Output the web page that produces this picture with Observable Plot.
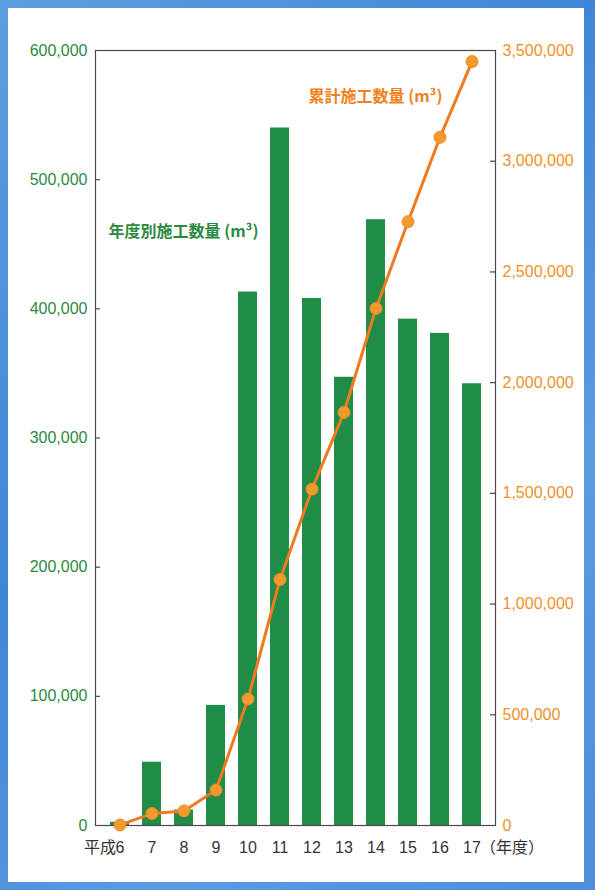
<!DOCTYPE html>
<html><head><meta charset="utf-8">
<script src="https://cdn.jsdelivr.net/npm/d3@7"></script>
<script src="https://cdn.jsdelivr.net/npm/@observablehq/plot@0.6"></script>
<style>
html,body{margin:0;padding:0;}
body{width:595px;height:890px;overflow:hidden;background:linear-gradient(135deg,#5c9fe0 0%,#3f86d6 40%,#5a9be0 70%,#4b8fda 100%);}
#wrap{position:relative;width:595px;height:890px;}
#panel{position:absolute;left:8px;top:8px;width:576px;height:874px;background:#fff;}
#chart{position:absolute;left:0;top:0;}
</style></head>
<body><div id="wrap"><div id="panel"></div><div id="chart"></div></div>
<script>
const years = [6, 7, 8, 9, 10, 11, 12, 13, 14, 15, 16, 17];
const annual = [2500, 49000, 12000, 93000, 413000, 540000, 408000, 347000, 469000, 392000, 381000, 342000];
const cumulative = [2500, 54000, 66000, 160000, 571000, 1111000, 1519000, 1866000, 2335000, 2727000, 3108000, 3450000];
const leftTicks = [0, 100000, 200000, 300000, 400000, 500000, 600000];
const rightTicks = [0, 500000, 1000000, 1500000, 2000000, 2500000, 3000000, 3500000];
const xLabels = ["6", "7", "8", "9", "10", "11", "12", "13", "14", "15", "16", "17"];
const barLabel = "年度別施工数量 (m³)";
const lineLabel = "累計施工数量 (m³)";

const k = 600000 / 3500000;
const rows = years.map((yr, i) => ({year: yr, annual: annual[i], cum: cumulative[i] * k}));
const fmt = d3.format(",");
const green = "#1f8c47", orange = "#f39a2e", lineCol = "#f07a1e";
const numFont = "'Liberation Sans', Arial, sans-serif";
const cjkFont = "'Noto Sans CJK JP', sans-serif";

const chart = Plot.plot({
  width: 595, height: 890,
  marginLeft: 95, marginRight: 100, marginTop: 50, marginBottom: 65,
  style: {background: "transparent", overflow: "visible"},
  x: {type: "band", domain: years, padding: 0.42, axis: null},
  y: {domain: [0, 600000], axis: null},
  marks: [
    Plot.barY(rows, {x: "year", y: "annual", fill: green}),
    Plot.frame({stroke: "#4a4a4a", strokeWidth: 1.2}),
    Plot.tickY(leftTicks.slice(1, -1), {y: d => d, insetRight: 395, stroke: "#4a4a4a", strokeWidth: 1.2}),
    Plot.tickY(rightTicks.slice(1, -1), {y: d => d * k, insetLeft: 395, stroke: "#4a4a4a", strokeWidth: 1.2}),
    Plot.text(leftTicks, {y: d => d, text: d => fmt(d), frameAnchor: "left", textAnchor: "end", dx: -8, fill: "#2b8a3e", fontSize: 16, fontFamily: numFont}),
    Plot.text(rightTicks, {y: d => d * k, text: d => fmt(d), frameAnchor: "right", textAnchor: "start", dx: 7, fill: "#f0902a", fontSize: 16, fontFamily: numFont}),
    Plot.line(rows, {x: "year", y: "cum", stroke: lineCol, strokeWidth: 3}),
    Plot.dot(rows, {x: "year", y: "cum", r: 6, fill: orange, stroke: "#f08a26", strokeWidth: 1}),
    Plot.text(years, {x: d => d, text: (d, i) => xLabels[i], frameAnchor: "bottom", dy: 27, fill: "#333", fontSize: 16, fontFamily: numFont}),
    Plot.text(["平成"], {x: () => years[0], frameAnchor: "bottom", textAnchor: "end", dx: -4, dy: 27, fill: "#333", fontSize: 16, fontFamily: cjkFont}),
    Plot.text(["（年度）"], {x: () => years[years.length - 1], frameAnchor: "bottom", textAnchor: "start", dx: 8, dy: 27, fill: "#333", fontSize: 16, fontFamily: cjkFont}),
    Plot.text([barLabel], {frameAnchor: "top-left", textAnchor: "start", dx: 13, dy: 175, fill: "#2b8a3e", fontSize: 16, fontWeight: "bold", fontFamily: cjkFont}),
    Plot.text([lineLabel], {frameAnchor: "top-left", textAnchor: "start", dx: 213, dy: 40, fill: "#f08020", fontSize: 16, fontWeight: "bold", fontFamily: cjkFont})
  ]
});
document.getElementById("chart").appendChild(chart);
</script></body></html>
